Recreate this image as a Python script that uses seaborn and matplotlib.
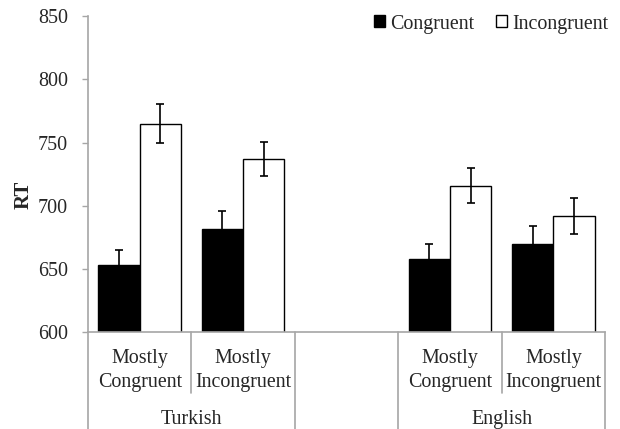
import numpy as np
import pandas as pd
import matplotlib
matplotlib.use('Agg')
import matplotlib.pyplot as plt
import seaborn as sns

# ── data ────────────────────────────────────────────────────
groups         = ['Turkish', 'English']
blocks         = ['Mostly Congruent', 'Mostly Incongruent']
conditions     = ['Congruent', 'Incongruent']
# order: Turkish-MC, Turkish-MI, English-MC, English-MI
congruent_rt   = [653, 682, 658, 670]
incongruent_rt = [765, 737, 716, 692]
congruent_err  = [12, 14, 12, 14]
incongruent_err = [15.5, 13.5, 14, 14]

# slots on the x axis (one blank slot between the languages)
slots = []
for g in groups:
    for b in blocks:
        slots.append(f'{g}|{b}')
order = slots[:2] + ['gap'] + slots[2:]

rows = []
for i, s in enumerate(slots):
    rows.append({'slot': s, 'cond': 'Congruent', 'RT': congruent_rt[i], 'err': congruent_err[i]})
    rows.append({'slot': s, 'cond': 'Incongruent', 'RT': incongruent_rt[i], 'err': incongruent_err[i]})
df = pd.DataFrame(rows)

# ── plot ────────────────────────────────────────────────────
sns.set_style('white')
plt.rcParams['font.family'] = ['Liberation Serif', 'DejaVu Serif']
FS = 14.4
grey = '#a6a6a6'

fig = plt.figure(figsize=(6.2, 4.29), dpi=100)
ax = fig.add_axes([88/620, 1 - 332.3/429, 517/620, 316/429])

sns.barplot(data=df, x='slot', y='RT', hue='cond', order=order, hue_order=conditions,
            palette={'Congruent': 'black', 'Incongruent': 'white'},
            edgecolor='black', linewidth=1.0, errorbar=None, width=0.8, ax=ax)

# error bars from the drawn bars
bar_conts = list(ax.containers)
for cond, cont in zip(conditions, bar_conts):
    for p in cont.patches:
        h = p.get_height()
        if not np.isfinite(h) or h == 0:
            continue
        xc = p.get_x() + p.get_width() / 2
        slot = order[int(round(xc))]
        match = df[(df.slot == slot) & (df.cond == cond)]['err'].values
        if len(match) == 0:
            continue
        ax.errorbar(xc, h, yerr=match[0], color='black', lw=1.2,
                    capsize=3, capthick=1.2, zorder=5)

ax.set_ylim(600, 850)
ax.set_xlim(-0.5, 4.5)
ax.set_yticks(np.arange(600, 851, 50))
ax.tick_params(axis='y', labelsize=FS, length=4.5, width=1, color=grey, pad=10, left=True)
ax.tick_params(axis='x', length=0, labelbottom=False)
ax.set_xlabel('')
ax.set_ylabel('RT', fontsize=15, fontweight='bold')
ax.yaxis.set_label_coords(-0.106, 0.434)

for side in ['top', 'right']:
    ax.spines[side].set_visible(False)
for side in ['left', 'bottom']:
    ax.spines[side].set_color(grey)
    ax.spines[side].set_linewidth(1.2)

# multi-level category axis
tr = ax.get_xaxis_transform()
for x in [0.5, 3.5]:
    ax.plot([x, x], [0, -0.193], color=grey, lw=1.2, transform=tr, clip_on=False)
for x in [-0.5, 1.5, 2.5, 4.5]:
    ax.plot([x, x], [0, -0.32], color=grey, lw=1.2, transform=tr, clip_on=False)

pos = {s: i for i, s in enumerate(order)}
for s in slots:
    g, b = s.split('|')
    first, second = b.split(' ')
    ax.text(pos[s], -0.0981, first, ha='center', va='baseline', fontsize=FS, transform=tr)
    ax.text(pos[s], -0.1722, second, ha='center', va='baseline', fontsize=FS, transform=tr)
for g in groups:
    xs = [pos[s] for s in slots if s.startswith(g)]
    ax.text(np.mean(xs), -0.2911, g, ha='center', va='baseline', fontsize=FS, transform=tr)

sns.move_legend(ax, 'center right', bbox_to_anchor=(608/620, 1 - 24/429),
                bbox_transform=fig.transFigure, ncol=2, frameon=False, title=None,
                fontsize=FS, handlelength=0.55, handleheight=0.55, handletextpad=0.25,
                columnspacing=1.1, borderpad=0, borderaxespad=0)

fig.savefig('out.png', dpi=100)
plt.close()
